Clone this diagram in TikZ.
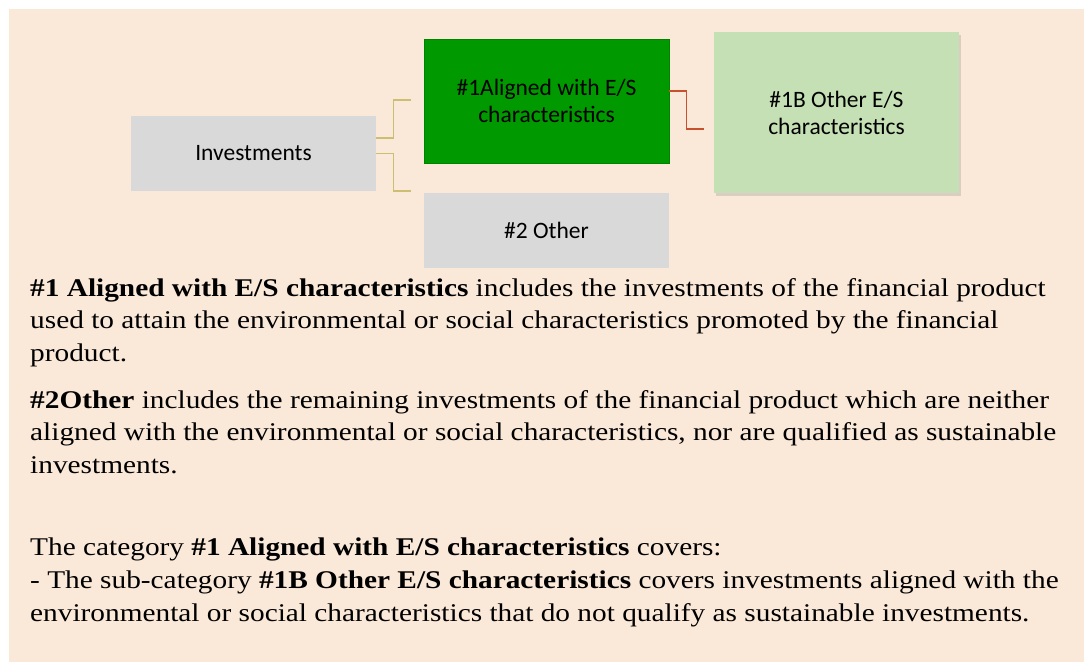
\documentclass[tikz,border=0pt]{standalone}
\usepackage{fontspec}
\setmainfont{Liberation Serif}
\newfontfamily\calfont{Carlito}
\usetikzlibrary{shadows}
\definecolor{bgbeige}{HTML}{FAE8D8}
\definecolor{boxgray}{HTML}{D9D9D9}
\definecolor{darkgreen}{HTML}{009900}
\definecolor{lightgreen}{HTML}{C5E0B4}
\definecolor{olivelink}{HTML}{CCBE72}
\definecolor{redlink}{HTML}{C8502D}
\newcommand{\widen}[1]{\scalebox{1.15}[1]{#1}}
\tikzset{
  box/.style={rectangle, inner sep=0pt, minimum width=245pt, align=center,
    font=\calfont\fontsize{23.5}{27}\selectfont, text=black},
  body/.style={anchor=base west, inner sep=0pt, font=\fontsize{25.5}{30}\selectfont, text=black},
  link/.style={line width=1.2pt},
}
\begin{document}
\begin{tikzpicture}[x=1pt,y=-1pt]
\useasboundingbox (0,0) rectangle (1088,662);
\fill[white] (0,0) rectangle (1088,662);
\fill[bgbeige] (9,9) rectangle (1084,662);

\node[box, fill=boxgray, minimum height=75pt] (inv) at (253.5,153.5) {Investments};
\node[box, fill=darkgreen, draw=darkgreen!85!black, line width=0.4pt, minimum height=124pt] (al) at (546.5,101) {\#1Aligned with E/S\\characteristics};
\node[box, fill=boxgray, minimum height=75pt] (oth) at (546.5,230.5) {\#2 Other};
\node[box, fill=lightgreen, minimum height=161pt,
  drop shadow={opacity=0.25, shadow xshift=2pt, shadow yshift=-3pt}] (ob) at (836.5,112.5) {\#1B Other E/S\\characteristics};

\coordinate (t1) at (411,100);
\coordinate (t2) at (411,191);
\coordinate (t3) at (704,129);
\draw[link, olivelink] ([yshift=15.5pt]inv.east) -- ++(17,0) |- (t1);
\draw[link, olivelink] (inv.east) -- ++(17,0) |- (t2);
\draw[link, redlink] ([yshift=10pt]al.east) -- ++(17,0) |- (t3);

\node[body] (l1) at (30,296) {\widen{\textbf{\#1 Aligned with E/S characteristics} includes the investments of the financial product}};
\node[body] (l2) at (30,328.5) {\widen{used to attain the environmental or social characteristics promoted by the financial}};
\node[body] (l3) at (30,361) {\widen{product.}};
\node[body] (l4) at (30,408) {\widen{\textbf{\#2Other} includes the remaining investments of the financial product which are neither}};
\node[body] (l5) at (30,440.5) {\widen{aligned with the environmental or social characteristics, nor are qualified as sustainable}};
\node[body] (l6) at (30,473) {\widen{investments.}};
\node[body] (l7) at (30,555) {\widen{The category \textbf{\#1 Aligned with E/S characteristics} covers:}};
\node[body] (l8) at (30,588.5) {\widen{- The sub-category \textbf{\#1B Other E/S characteristics} covers investments aligned with the}};
\node[body] (l9) at (30,621.5) {\widen{environmental or social characteristics that do not qualify as sustainable investments.}};
\end{tikzpicture}
\end{document}
